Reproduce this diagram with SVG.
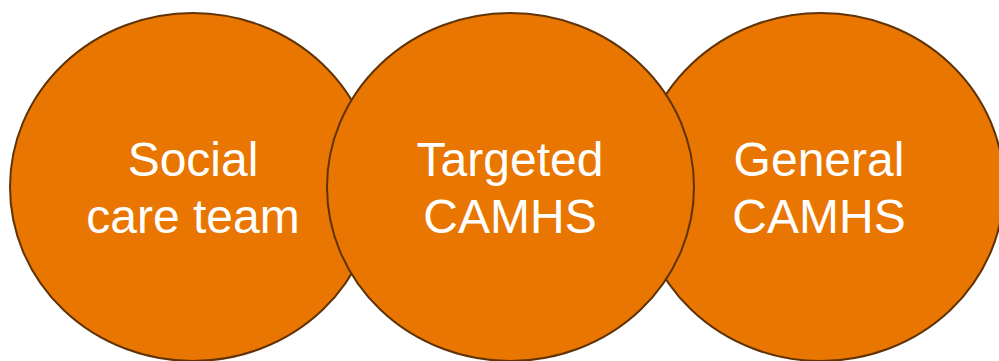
<svg xmlns="http://www.w3.org/2000/svg" width="999" height="361" viewBox="0 0 999 361">
  <style>
    .disc { fill: #E97600; stroke: #5F3305; stroke-width: 2; }
    .label { fill: #FFFFFF; font-family: "Liberation Sans", Arial, sans-serif; font-size: 48px; text-anchor: middle; }
  </style>
  <rect width="999" height="361" fill="#FFFFFF"/>
  <!-- outer circles first, the middle one overlaps both -->
  <g id="social-care-team">
    <ellipse class="disc" cx="193" cy="187" rx="183" ry="174"/>
    <text class="label" x="193" y="176">Social</text>
    <text class="label" x="193" y="233">care team</text>
  </g>
  <g id="general-camhs">
    <ellipse class="disc" cx="821" cy="187" rx="183" ry="174"/>
    <text class="label" x="819" y="176">General</text>
    <text class="label" x="819" y="233">CAMHS</text>
  </g>
  <g id="targeted-camhs">
    <ellipse class="disc" cx="510.5" cy="187" rx="183.5" ry="174"/>
    <text class="label" x="510" y="176">Targeted</text>
    <text class="label" x="510" y="233">CAMHS</text>
  </g>
  <g id="connectors"/>
</svg>
